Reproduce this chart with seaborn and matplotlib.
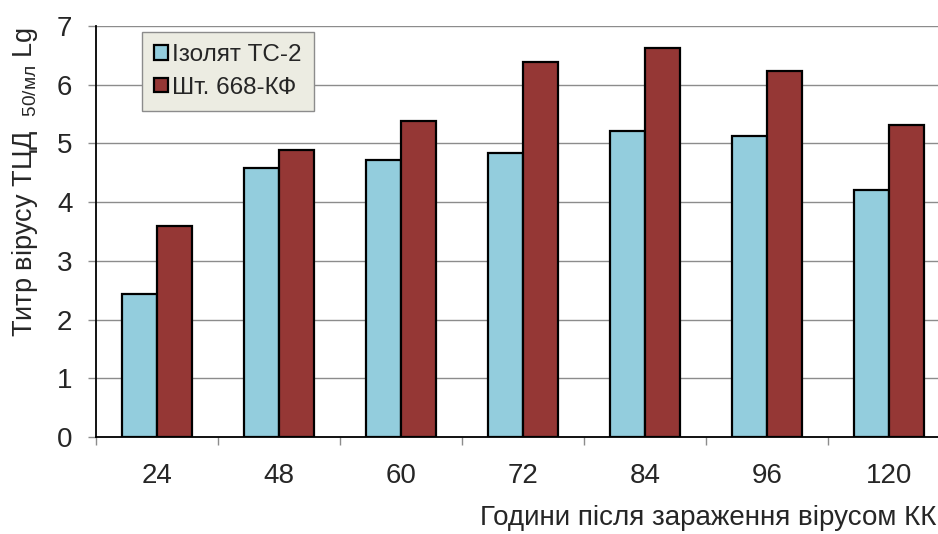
import pandas as pd
import seaborn as sns
import matplotlib.pyplot as plt
from matplotlib.patches import Patch

HOURS = ["24", "48", "60", "72", "84", "96", "120"]
ISOLATE_TC2 = [2.43, 4.58, 4.72, 4.84, 5.21, 5.13, 4.21]
STRAIN_668 = [3.59, 4.89, 5.38, 6.39, 6.63, 6.24, 5.32]
SERIES = ["Ізолят ТС-2", "Шт. 668-КФ"]
COLORS = ["#93CDDD", "#953735"]

df = pd.DataFrame({
    "hours": HOURS * 2,
    "titer": ISOLATE_TC2 + STRAIN_668,
    "series": [SERIES[0]] * len(HOURS) + [SERIES[1]] * len(HOURS),
})

sns.set_theme(style="white")
plt.rcParams["font.family"] = ["Liberation Sans", "DejaVu Sans"]
plt.rcParams["mathtext.fontset"] = "custom"
plt.rcParams["mathtext.rm"] = "Liberation Sans"

fig = plt.figure(figsize=(9.38, 5.34), dpi=100)
ax = fig.add_axes([96 / 938, 1 - 437 / 534, 854 / 938, 411 / 534])

sns.barplot(data=df, x="hours", y="titer", hue="series", order=HOURS,
            hue_order=SERIES, palette=COLORS, width=0.574, gap=0,
            edgecolor="black", linewidth=1.6, saturation=1, ax=ax,
            legend=False)

ax.set_ylim(0, 7)
ax.set_xlim(-0.5, len(HOURS) - 0.5)
ax.set_yticks(range(0, 8))
ax.yaxis.grid(True, color="#8c8c8c", linewidth=1)
ax.set_axisbelow(True)

for side in ["top", "right"]:
    ax.spines[side].set_visible(False)
ax.spines["left"].set_color("black")
ax.spines["left"].set_linewidth(1.3)
ax.spines["bottom"].set_color("black")
ax.spines["bottom"].set_linewidth(1.3)

ax.tick_params(axis="y", direction="out", length=6, width=1, color="#8c8c8c",
               labelsize=20, pad=11, left=True)
ax.set_xticks([i + 0.5 for i in range(-1, len(HOURS) - 1)], minor=True)
ax.tick_params(axis="x", which="minor", direction="out", length=6, width=1,
               color="#8c8c8c", bottom=True)
ax.tick_params(axis="x", which="major", length=0, labelsize=20, pad=19)

ax.set_ylabel(r"Титр вірусу ТЦД $\;_{\mathregular{50/мл}}\;$Lg", fontsize=19.5)
ax.yaxis.set_label_coords(-0.066, 0.62)
ax.set_xlabel("Години після зараження вірусом КК", fontsize=20)
ax.xaxis.set_label_coords((936 - 96) / 854, -0.165)
ax.xaxis.label.set_horizontalalignment("right")

handles = [Patch(facecolor=c, edgecolor="black", linewidth=1.6) for c in COLORS]
leg = ax.legend(handles, SERIES, loc="upper left",
                bbox_to_anchor=(0.054, 0.985), borderaxespad=0, fontsize=17.5,
                handlelength=0.55, handleheight=0.55, handletextpad=0.2,
                labelspacing=0.42, borderpad=0.5, fancybox=False,
                framealpha=1, facecolor="#ECECE2", edgecolor="#8c8c8c")
leg.get_frame().set_linewidth(1)

fig.savefig("out.png", dpi=100)
